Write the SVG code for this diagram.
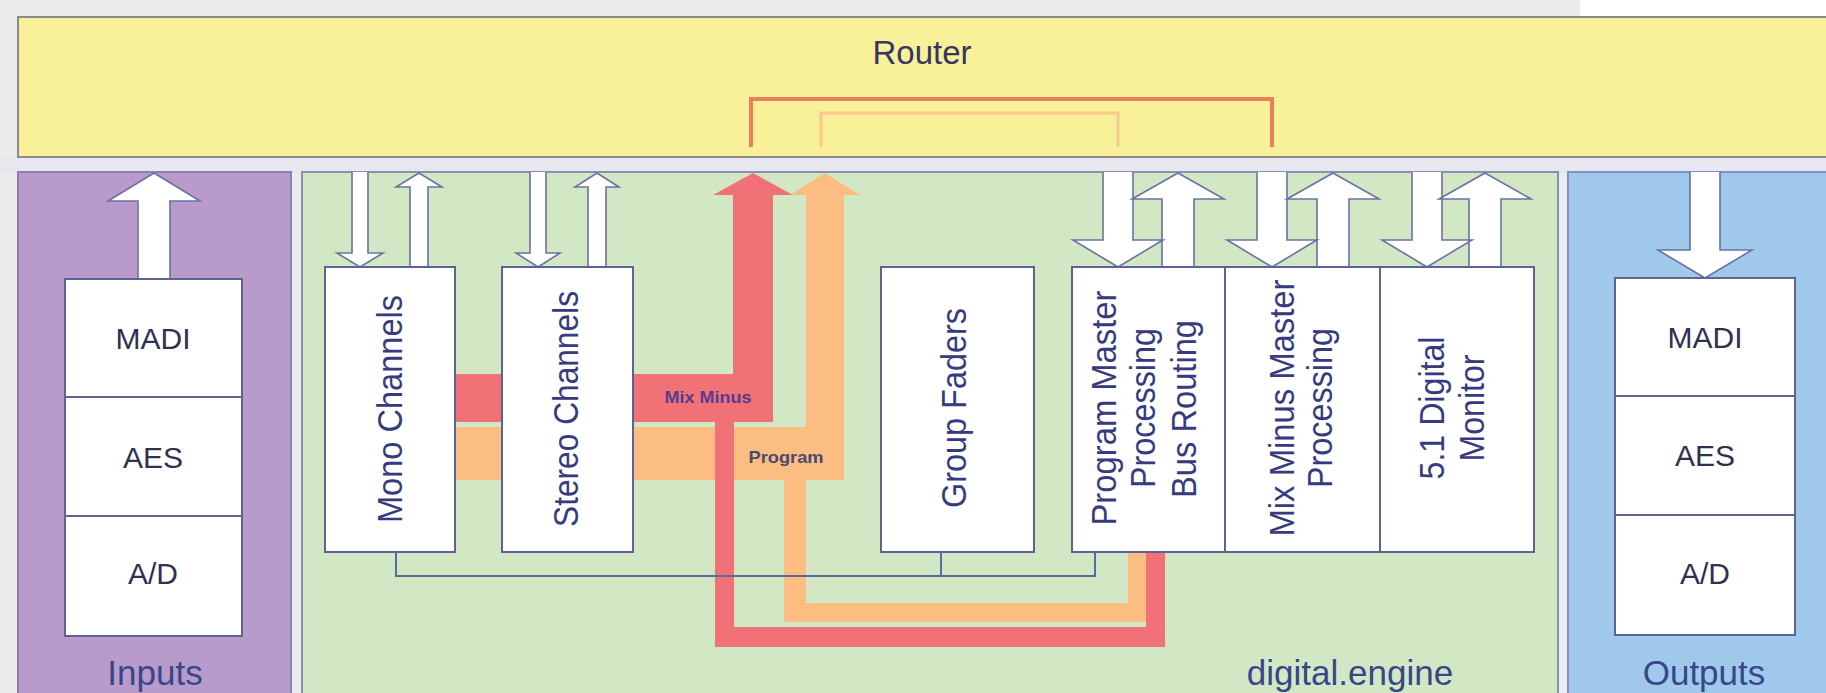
<svg xmlns="http://www.w3.org/2000/svg" width="1826" height="693" viewBox="0 0 1826 693">
<style>
.box{fill:#ffffff;stroke:#5d6394;stroke-width:2}
.lbl{font-family:"Liberation Sans",Arial,sans-serif;fill:#30304f;font-size:30px;text-anchor:middle}
.vt{font-family:"Liberation Sans",Arial,sans-serif;fill:#363b80;font-size:35px;text-anchor:middle}
.ptitle{font-family:"Liberation Sans",Arial,sans-serif;fill:#38478a;font-size:35px;text-anchor:middle}
.warrow{fill:#ffffff;stroke:none}
.warrowline{fill:none;stroke:#6a72a4;stroke-width:1.6;stroke-linejoin:miter}
.red{fill:#f07277}
.org{fill:#fbbd82}
.bus{fill:none;stroke:#5a6a9c;stroke-width:2}
.small{font-family:"Liberation Sans",Arial,sans-serif;font-size:17px;text-anchor:middle;font-weight:bold}
</style>
<defs>
<path id="aIn" d="M138,279 V201 H108 L154,173 L200,201 H170 V279"/>
<path id="aMonoD" d="M352,172 V253 H337 L360,267 L383,253 H368 V172"/>
<path id="aMonoU" d="M410,267 V187 H396 L419,173 L442,187 H428 V267"/>
<path id="aStD" d="M530,172 V253 H516 L538,267 L560,253 H546 V172"/>
<path id="aStU" d="M588,267 V187 H575 L597,173 L619,187 H606 V267"/>
<path id="aPMD" d="M1103,172 V240 H1073 L1118,267 L1163,240 H1133 V172"/>
<path id="aPMU" d="M1162,267 V199 H1132 L1178,173 L1224,199 H1194 V267"/>
<path id="aMMD" d="M1257,172 V240 H1227 L1272,267 L1317,240 H1287 V172"/>
<path id="aMMU" d="M1317,267 V199 H1287 L1333,173 L1379,199 H1349 V267"/>
<path id="a51D" d="M1412,172 V240 H1382 L1427,267 L1472,240 H1442 V172"/>
<path id="a51U" d="M1469,267 V199 H1439 L1485,173 L1531,199 H1501 V267"/>
<path id="aOut" d="M1690,172 V250 H1658 L1705,278 L1752,250 H1720 V172"/>
</defs>
<rect x="0" y="0" width="1826" height="693" fill="#ebebeb"/>
<rect x="1580" y="0" width="246" height="16" fill="#ffffff"/>
<rect x="0" y="157" width="1826" height="16" fill="#e8e6ef"/>
<g id="inputs-panel">
<rect x="18" y="172" width="273" height="530" fill="#b99bcb" stroke="#8c7db8" stroke-width="2"/>
<text class="ptitle" x="155" y="685">Inputs</text>
</g>
<g id="engine-panel">
<rect x="302" y="172" width="1256" height="530" fill="#d2e8c4" stroke="#8592b4" stroke-width="2"/>
<text class="ptitle" x="1350" y="685">digital.engine</text>
</g>
<g id="outputs-panel">
<rect x="1568" y="172" width="270" height="530" fill="#a0c8ea" stroke="#7f8fcf" stroke-width="2"/>
<text class="ptitle" x="1704" y="685">Outputs</text>
</g>
<g id="router">
<rect x="18" y="17" width="1820" height="140" fill="#f9f19a" stroke="#8a8a8a" stroke-width="2"/>
<text x="922" y="64" font-family="Liberation Sans, Arial, sans-serif" font-size="33" fill="#363660" text-anchor="middle">Router</text>
</g>
<g id="connectors">
<path d="M751,147 V99 H1272 V147" fill="none" stroke="#e8805a" stroke-width="4"/>
<path d="M821,147 V113 H1118 V147" fill="none" stroke="#f8c88c" stroke-width="3"/>
<rect class="org" x="455" y="427" width="389" height="53"/>
<rect class="org" x="784" y="427" width="22" height="195"/>
<rect class="org" x="784" y="603" width="362" height="19"/>
<rect class="org" x="1128" y="545" width="18" height="77"/>
<path class="org" d="M806,480 V195 H790 L825,173 L860,195 H844 V480 Z"/>
<rect class="red" x="455" y="374" width="317" height="48"/>
<rect class="red" x="715" y="374" width="19" height="273"/>
<rect class="red" x="715" y="627" width="450" height="20"/>
<rect class="red" x="1146" y="545" width="19" height="102"/>
<path class="red" d="M733,422 V195 H713 L753,173 L793,195 H773 V422 Z"/>
<text class="small" x="708" y="403" fill="#5a3a8e" textLength="87" lengthAdjust="spacingAndGlyphs">Mix Minus</text>
<text class="small" x="786" y="463" fill="#4a4a70" font-weight="normal" textLength="75" lengthAdjust="spacingAndGlyphs">Program</text>
<path class="bus" d="M396,552 V576 H1095 V552 M941,552 V576"/>
<g class="warrow">
<use href="#aIn"/><use href="#aMonoD"/><use href="#aMonoU"/><use href="#aStD"/><use href="#aStU"/>
<use href="#aPMD"/><use href="#aPMU"/><use href="#aMMD"/><use href="#aMMU"/><use href="#a51D"/><use href="#a51U"/><use href="#aOut"/>
</g>
<g class="warrowline">
<use href="#aIn"/><use href="#aMonoD"/><use href="#aMonoU"/><use href="#aStD"/><use href="#aStU"/>
<use href="#aPMD"/><use href="#aPMU"/><use href="#aMMD"/><use href="#aMMU"/><use href="#a51D"/><use href="#a51U"/><use href="#aOut"/>
</g>
</g>
<g id="in-madi"><rect class="box" x="65" y="279" width="177" height="118"/><text class="lbl" x="153" y="349">MADI</text></g>
<g id="in-aes"><rect class="box" x="65" y="397" width="177" height="119"/><text class="lbl" x="153" y="468">AES</text></g>
<g id="in-ad"><rect class="box" x="65" y="516" width="177" height="120"/><text class="lbl" x="153" y="584">A/D</text></g>
<g id="mono"><rect class="box" x="325" y="267" width="130" height="285"/><text class="vt" x="402" y="409" transform="rotate(-90 402 409)" textLength="228" lengthAdjust="spacingAndGlyphs">Mono Channels</text></g>
<g id="stereo"><rect class="box" x="502" y="267" width="131" height="285"/><text class="vt" x="578" y="409" transform="rotate(-90 578 409)" textLength="236" lengthAdjust="spacingAndGlyphs">Stereo Channels</text></g>
<g id="group-faders"><rect class="box" x="881" y="267" width="153" height="285"/><text class="vt" x="966" y="408" transform="rotate(-90 966 408)" textLength="200" lengthAdjust="spacingAndGlyphs">Group Faders</text></g>
<g id="program-master"><rect class="box" x="1072" y="267" width="153" height="285"/>
<text class="vt" x="1116" y="408" transform="rotate(-90 1116 408)" textLength="235" lengthAdjust="spacingAndGlyphs">Program Master</text>
<text class="vt" x="1155" y="408" transform="rotate(-90 1155 408)" textLength="160" lengthAdjust="spacingAndGlyphs">Processing</text>
<text class="vt" x="1196" y="409" transform="rotate(-90 1196 409)" textLength="178" lengthAdjust="spacingAndGlyphs">Bus Routing</text></g>
<g id="mixminus-master"><rect class="box" x="1225" y="267" width="155" height="285"/>
<text class="vt" x="1294" y="408" transform="rotate(-90 1294 408)" textLength="257" lengthAdjust="spacingAndGlyphs">Mix Minus Master</text>
<text class="vt" x="1332" y="408" transform="rotate(-90 1332 408)" textLength="160" lengthAdjust="spacingAndGlyphs">Processing</text></g>
<g id="digital-monitor"><rect class="box" x="1380" y="267" width="154" height="285"/>
<text class="vt" x="1444" y="408" transform="rotate(-90 1444 408)" textLength="143" lengthAdjust="spacingAndGlyphs">5.1 Digital</text>
<text class="vt" x="1484" y="408" transform="rotate(-90 1484 408)" textLength="107" lengthAdjust="spacingAndGlyphs">Monitor</text></g>
<g id="out-madi"><rect class="box" x="1615" y="278" width="180" height="118"/><text class="lbl" x="1705" y="348">MADI</text></g>
<g id="out-aes"><rect class="box" x="1615" y="396" width="180" height="119"/><text class="lbl" x="1705" y="466">AES</text></g>
<g id="out-ad"><rect class="box" x="1615" y="515" width="180" height="120"/><text class="lbl" x="1705" y="584">A/D</text></g>
</svg>
